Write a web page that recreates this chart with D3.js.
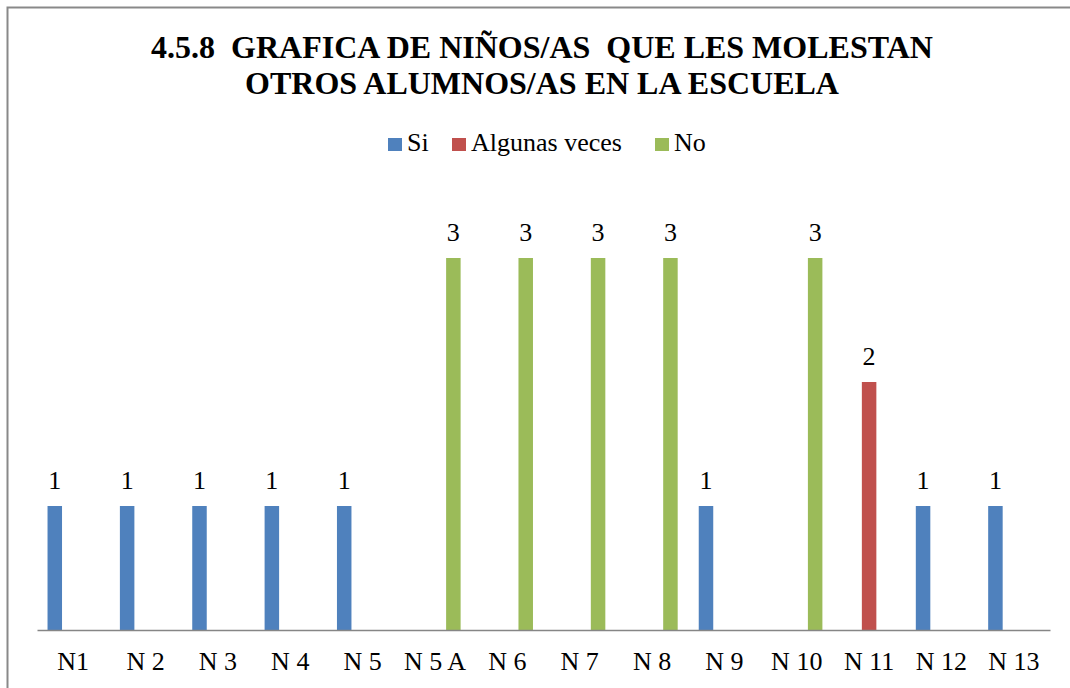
<!DOCTYPE html>
<html>
<head>
<meta charset="utf-8">
<script src="https://cdn.jsdelivr.net/npm/d3@7"></script>
</head>
<body style="margin:0; background:#fff">
<svg id="chart" width="1070" height="688"></svg>
<script>
// Chart data
const categories = ["N1", "N 2", "N 3", "N 4", "N 5", "N 5 A", "N 6", "N 7", "N 8", "N 9", "N 10", "N 11", "N 12", "N 13"];
const seriesNames = ["Si", "Algunas veces", "No"];
const seriesColors = ["#4F81BD", "#C0504D", "#9BBB59"];
const siValues = [1, 1, 1, 1, 1, null, null, null, null, 1, null, null, 1, 1];
const algunasValues = [null, null, null, null, null, null, null, null, null, null, null, 2, null, null];
const noValues = [null, null, null, null, null, 3, 3, 3, 3, null, 3, null, null, null];
const titleLines = ["4.5.8  GRAFICA DE NIÑOS/AS  QUE LES MOLESTAN", "OTROS ALUMNOS/AS EN LA ESCUELA"];

const serif = "\"Liberation Serif\"";

const svg = d3.select("#chart");
const width = +svg.attr("width");
const height = +svg.attr("height");

// plot area
const plotLeft = 37, plotRight = 1050, plotTop = 196, plotBottom = 630;
const slot = 18.4;     // distance between bars in a group
const barWidth = 14.5;

// outer border (cut off at right/bottom like the source)
svg.append("rect")
    .attr("x", 7.5).attr("y", 7.5)
    .attr("width", width + 20).attr("height", height + 20)
    .attr("fill", "none")
    .attr("stroke", "#898989")
    .attr("stroke-width", 2);

// title
svg.append("g").selectAll("text")
    .data(titleLines)
    .enter()
    .append("text")
    .attr("x", 542)
    .attr("y", (d, i) => 58 + i * 36)
    .attr("text-anchor", "middle")
    .style("font-family", serif)
    .style("font-size", "32px")
    .style("font-weight", "bold")
    .style("white-space", "pre")
    .attr("fill", "#000")
    .text(d => d);

const x = d3.scaleBand().domain(categories).range([plotLeft, plotRight]).padding(0);
const y = d3.scaleLinear().domain([0, 3.5]).range([plotBottom, plotTop]);

const allSeries = [siValues, algunasValues, noValues];

// bars + labels
allSeries.forEach((values, s) => {
    const offset = (s - 1) * slot;
    const pts = categories.map((c, i) => ({ cat: c, v: values[i] })).filter(d => d.v !== null);
    const g = svg.append("g");

    g.selectAll("rect")
        .data(pts)
        .enter()
        .append("rect")
        .attr("x", d => x(d.cat) + x.bandwidth() / 2 + offset - barWidth / 2)
        .attr("y", d => y(d.v))
        .attr("width", barWidth)
        .attr("height", d => y(0) - y(d.v))
        .attr("fill", seriesColors[s]);

    g.selectAll("text")
        .data(pts)
        .enter()
        .append("text")
        .attr("x", d => x(d.cat) + x.bandwidth() / 2 + offset)
        .attr("y", d => y(d.v) - 17)
        .attr("text-anchor", "middle")
        .style("font-family", serif)
        .style("font-size", "26px")
        .attr("fill", "#000")
        .text(d => d.v);
});

// category axis
const xAxis = svg.append("g")
    .attr("transform", `translate(0,${plotBottom})`)
    .call(d3.axisBottom(x).tickSize(0).tickPadding(0));
xAxis.select(".domain").attr("stroke", "#868686").attr("stroke-width", 1.5);
xAxis.selectAll("text")
    .style("font-family", serif)
    .style("font-size", "26px")
    .attr("dy", 0)
    .attr("y", 40)
    .attr("fill", "#000");

// legend
const legendX = [388, 452, 655];
const legend = svg.append("g");
seriesNames.forEach((name, i) => {
    legend.append("rect")
        .attr("x", legendX[i]).attr("y", 138)
        .attr("width", 14).attr("height", 13)
        .attr("fill", seriesColors[i]);
    legend.append("text")
        .attr("x", legendX[i] + 19).attr("y", 151)
        .style("font-family", serif)
        .style("font-size", "26px")
        .attr("fill", "#000")
        .text(name);
});
</script>
</body>
</html>
